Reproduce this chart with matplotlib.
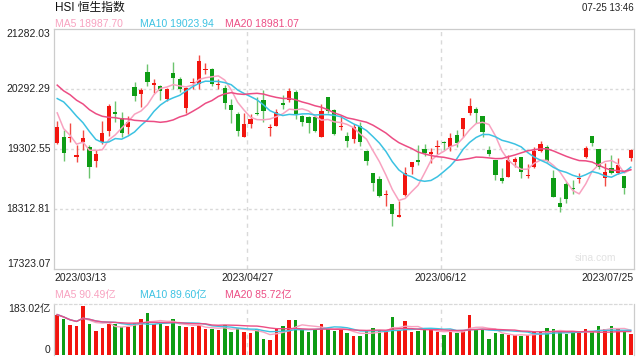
# HSI daily candles with MA5/MA10/MA20 and turnover panel
import numpy as np
import pandas as pd
import matplotlib
matplotlib.use("Agg")
import matplotlib.pyplot as plt
import matplotlib.transforms as mtransforms

plt.rcParams['font.family'] = ['Liberation Sans', 'Noto Sans CJK SC']

# ---- data (90 trading days 2023/03/13 - 2023/07/25) ----
open_px = [19407, 19495, 19484, 19176, 19424, 19341, 19110, 19424, 19599, 19907,
           19819, 19671, 20320, 20204, 20567, 20364, 20342, 20127, 20551, 20457,
           19973, 20391, 20369, 20606, 20617, 20358, 20303, 20028, 19880, 19506,
           19715, 19902, 20111, 19649, 19687, 20056, 20111, 20237, 19847, 19825,
           19825, 19495, 20155, 19946, 19660, 19517, 19468, 19687, 19275, 18901,
           18808, 18544, 18395, 18186, 18544, 19011, 19116, 19303, 19215, 19330,
           19418, 19341, 19534, 19627, 19902, 19962, 19847, 19286, 19121, 18819,
           18846, 19094, 19165, 18857, 19000, 19275, 19341, 18819, 18406, 18725,
           18665, 18808, 19165, 19517, 19303, 18819, 18989, 18901, 18857, 19160]
close_px = [19660, 19231, 19506, 19198, 19479, 19000, 19215, 19561, 20012, 19885,
            19561, 19742, 20182, 20276, 20402, 20386, 20265, 20292, 20479, 20292,
            20303, 20413, 20754, 20628, 20369, 20380, 20067, 19946, 19605, 19715,
            19797, 19874, 19929, 19671, 19907, 20034, 20259, 19874, 19753, 19737,
            19599, 19929, 19935, 19550, 19682, 19440, 19660, 19424, 19110, 18736,
            18533, 18566, 18225, 18208, 18901, 19094, 19094, 19231, 19248, 19352,
            19396, 19479, 19407, 19808, 20012, 19902, 19588, 19220, 18874, 18780,
            19121, 19138, 18929, 18879, 19270, 19380, 19110, 18516, 18351, 18472,
            18643, 18830, 19325, 19407, 19000, 18918, 18912, 19039, 18665, 19286]
high_px = [19770, 19616, 19737, 19369, 19616, 19369, 19286, 19764, 20039, 20100,
           19918, 19852, 20413, 20303, 20705, 20452, 20358, 20303, 20732, 20485,
           20331, 20479, 20853, 20727, 20633, 20452, 20358, 20122, 19918, 19891,
           19874, 20155, 20276, 19715, 19957, 20193, 20314, 20276, 19863, 19847,
           19847, 20039, 20166, 19957, 19863, 19588, 19715, 19753, 19286, 18912,
           18857, 18626, 18395, 18445, 19011, 19094, 19369, 19385, 19325, 19451,
           19440, 19561, 19616, 19819, 20138, 19990, 19847, 19358, 19121, 18984,
           19204, 19176, 19165, 19055, 19341, 19440, 19369, 18956, 18516, 18764,
           18791, 18912, 19358, 19517, 19303, 19066, 19198, 19148, 18857, 19303]
low_px = [19380, 19105, 19424, 19094, 19286, 18819, 19011, 19380, 19517, 19753,
          19495, 19550, 20094, 20001, 20347, 20221, 20111, 20100, 20287, 20248,
          19891, 20287, 20287, 20540, 20342, 20292, 19957, 19726, 19517, 19506,
          19654, 19863, 19753, 19523, 19687, 19957, 20072, 19797, 19682, 19561,
          19588, 19495, 19902, 19528, 19616, 19341, 19407, 19352, 19039, 18615,
          18516, 18362, 18038, 18186, 18533, 18890, 19039, 19187, 19066, 19220,
          19286, 19275, 19341, 19506, 19863, 19726, 19495, 19187, 18791, 18747,
          18835, 19011, 18830, 18830, 18984, 19259, 19083, 18516, 18269, 18406,
          18560, 18736, 19148, 19358, 18973, 18698, 18890, 18890, 18555, 19105]
# closes of the 19 sessions before 03/13, needed so the MA lines start where they do
prior_close = [21113, 20812, 20987, 20719, 20887, 20529, 20423, 20351, 20010, 19943,
               19786, 20619, 20430, 20567, 20453, 20534, 20051, 19926, 19320]
# turnover in 亿
volume = [145, 128, 106, 103, 177, 110, 86, 96, 110, 110,
          100, 100, 116, 128, 149, 110, 115, 103, 128, 103,
          99, 99, 107, 92, 92, 91, 106, 83, 98, 83,
          79, 94, 57, 53, 98, 103, 124, 124, 92, 83,
          92, 110, 98, 85, 91, 78, 68, 67, 85, 96,
          91, 83, 136, 85, 122, 83, 85, 89, 89, 83,
          72, 91, 79, 91, 144, 92, 93, 59, 79, 74,
          72, 71, 67, 72, 83, 83, 96, 92, 86, 75,
          82, 80, 92, 82, 105, 92, 103, 92, 84, 74]

y_levels = [21282.03, 20292.29, 19302.55, 18312.81, 17323.07]
y_labels = ["21282.03", "20292.29", "19302.55", "18312.81", "17323.07"]
vol_max = 183.02
date_labels = ["2023/03/13", "2023/04/27", "2023/06/12", "2023/07/25"]
price_legend = ["MA5 18987.70", "MA10 19023.94", "MA20 18981.07"]
vol_legend = ["MA5 90.49亿", "MA10 89.60亿", "MA20 85.72亿"]

RED = '#f2140e'
GREEN = '#0e9c14'
MA_COLORS = ['#f8a2c0', '#3cc2e2', '#ec4d84']
GRID = '#d9d9d9'
FRAME = '#cccccc'

o = np.array(open_px, float)
c = np.array(close_px, float)
h = np.array(high_px, float)
l = np.array(low_px, float)
v = np.array(volume, float)
n = len(c)
x = np.arange(n)
up = c >= o

all_close = pd.Series(prior_close + close_px, dtype=float)
mas = [all_close.rolling(k).mean().to_numpy()[len(prior_close):] for k in (5, 10, 20)]
vs = pd.Series(v)
vmas = [vs.rolling(k, min_periods=1).mean().to_numpy() for k in (5, 10, 20)]

W, H = 640, 360
fig = plt.figure(figsize=(6.4, 3.6), dpi=100)


def box(left, top, right, bottom):
    return [left / W, 1 - bottom / H, (right - left) / W, (bottom - top) / H]


ax = fig.add_axes(box(54, 29, 634, 269))
axv = fig.add_axes(box(54, 304, 634, 355))

# ---- price panel ----
ax.set_xlim(-0.5, n - 0.5)
ax.set_ylim(y_levels[-1], y_levels[0])
for lev in y_levels[1:-1]:
    ax.axhline(lev, color=GRID, lw=1, ls=(0, (2, 2)), zorder=0)
for frac in (1 / 3, 2 / 3):
    ax.axvline(-0.5 + n * frac, color=GRID, lw=1, ls=(0, (3, 3)), zorder=0)

wick_cols = np.where(up, '#f24a44', '#6cc46f')
body_cols = np.where(up, RED, GREEN)
ax.vlines(x, l, h, colors=wick_cols, lw=1, zorder=2)
body_h = np.maximum(np.abs(c - o), 12)
ax.bar(x, body_h, bottom=np.minimum(o, c), width=0.66, color=body_cols, linewidth=0, zorder=3)

for ma, col in zip(mas, MA_COLORS):
    ax.plot(x, ma, color=col, lw=1.1, zorder=4)

ax.set_xticks([])
ax.set_yticks([])
for sp in ax.spines.values():
    sp.set_color(FRAME)
    sp.set_linewidth(0.9)

ylab_tr = mtransforms.blended_transform_factory(ax.transAxes, ax.transData)
for i, (lev, lab) in enumerate(zip(y_levels, y_labels)):
    va = 'top' if i == 0 else ('bottom' if i == len(y_levels) - 1 else 'center')
    ax.text(-0.006, lev, lab, transform=ylab_tr, ha='right', va=va, fontsize=7.5, color='#222222')

date_tr = mtransforms.blended_transform_factory(ax.transData, ax.transAxes)
date_x = [-0.5, -0.5 + n / 3, -0.5 + 2 * n / 3, n - 0.5]
date_ha = ['left', 'center', 'center', 'right']
for dx, lab, ha in zip(date_x, date_labels, date_ha):
    ax.text(dx, -0.038, lab, transform=date_tr, ha=ha, va='center', fontsize=7.5, color='#222222')

ax.text(0.934, 0.045, "sina.com", transform=ax.transAxes, ha='center', va='center',
        fontsize=7.5, color='#e2e2e2')

# ---- volume panel ----
axv.set_xlim(-0.5, n - 0.5)
axv.set_ylim(0, vol_max)
axv.bar(x, v, width=0.56, color=body_cols, linewidth=0, zorder=2)
for vm, col in zip(vmas, MA_COLORS):
    axv.plot(x, vm, color=col, lw=1.0, zorder=3)
for frac in (1 / 3, 2 / 3):
    axv.axvline(-0.5 + n * frac, color=GRID, lw=1, ls=(0, (3, 3)), zorder=0)
axv.set_xticks([])
axv.set_yticks([])
for sp in axv.spines.values():
    sp.set_color(FRAME)
    sp.set_linewidth(0.9)
axv.spines['top'].set_linestyle((0, (2, 2)))
axv.spines['top'].set_color(GRID)
axv.spines['bottom'].set_visible(False)

vlab_tr = mtransforms.blended_transform_factory(axv.transAxes, axv.transData)
axv.text(-0.006, vol_max, f"{vol_max:.2f}亿", transform=vlab_tr, ha='right', va='top',
         fontsize=7.5, color='#222222')
axv.text(-0.006, 0, "0", transform=vlab_tr, ha='right', va='bottom', fontsize=7.5, color='#222222')

# ---- header texts ----
fig.text(55 / W, 1 - 8 / H, "HSI 恒生指数", fontsize=8.5, va='center', color='#111111')
fig.text(634 / W, 1 - 8 / H, "07-25 13:46", fontsize=7, ha='right', va='center', color='#222222')
leg_x = [55, 140, 225]
for lx, lab, col in zip(leg_x, price_legend, MA_COLORS):
    fig.text(lx / W, 1 - 24 / H, lab, fontsize=7.5, va='center', color=col)
for lx, lab, col in zip(leg_x, vol_legend, MA_COLORS):
    fig.text(lx / W, 1 - 295 / H, lab, fontsize=7.5, va='center', color=col)

fig.savefig("out.png", dpi=100)
